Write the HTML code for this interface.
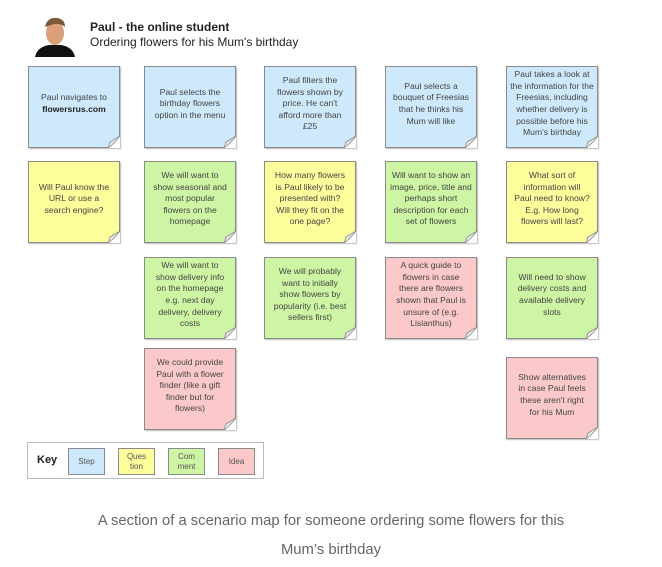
<!DOCTYPE html>
<html><head><meta charset="utf-8"><style>
body{margin:0;width:662px;height:567px;background:#fff;position:relative;overflow:hidden;font-family:"Liberation Sans",sans-serif}
.n{position:absolute;width:92px;height:82px;border:1px solid #8a8a8a;box-sizing:border-box;display:flex;align-items:center;justify-content:center;text-align:center;font-size:8.6px;line-height:11.6px;color:#444;padding:0 7px 6px;box-shadow:1px 1px 1px #bbb}
.n span{display:block}
.n svg{position:absolute;right:-1px;bottom:-1px}
.b{background:#cde9fb}.y{background:#fdfd9c}.g{background:#cdf5a3}.p{background:#fbc9c9}
.k{position:absolute;width:37px;height:27px;border:1px solid #8a8a8a;box-sizing:border-box;display:flex;align-items:center;justify-content:center;text-align:center;font-size:8px;line-height:10px;color:#555}
</style></head><body>
<svg style="position:absolute;left:33px;top:13px" width="44" height="44" viewBox="0 0 44 44">
<path d="M2 44 Q4 34 16 32 L28 32 Q40 34 42 44Z" fill="#111"/>
<ellipse cx="22" cy="20" rx="9" ry="12" fill="#d9a07a"/>
<path d="M12 14 Q14 4 24 5 Q32 6 32 14 Q26 9 18 12Z" fill="#7a5a3a"/>
</svg>
<div style="position:absolute;left:90px;top:20px;font-size:12px;font-weight:bold;color:#222">Paul - the online student</div>
<div style="position:absolute;left:90px;top:35px;font-size:12px;color:#222">Ordering flowers for his Mum's birthday</div>

<div class="n b" style="left:28px;top:66px;padding:0 2px 6px"><span>Paul navigates to<br><b style="color:#222">flowersrus.com</b></span></div>
<div class="n b" style="left:144px;top:66px;padding:0 9px 6px"><span>Paul selects the birthday flowers option in the menu</span></div>
<div class="n b" style="left:264px;top:66px"><span>Paul filters the flowers shown by price. He can't afford more than £25</span></div>
<div class="n b" style="left:385px;top:66px"><span>Paul selects a bouquet of Freesias that he thinks his Mum will like</span></div>
<div class="n b" style="left:506px;top:66px;padding:0 3px 6px"><span>Paul takes a look at the information for the Freesias, including whether delivery is possible before his Mum's birthday</span></div>

<div class="n y" style="left:28px;top:161px;padding:0 9px 6px"><span>Will Paul know the URL or use a search engine?</span></div>
<div class="n g" style="left:144px;top:161px"><span>We will want to show seasonal and most popular flowers on the homepage</span></div>
<div class="n y" style="left:264px;top:161px"><span>How many flowers is Paul likely to be presented with? Will they fit on the one page?</span></div>
<div class="n g" style="left:385px;top:161px;padding:0 4px 6px"><span>Will want to show an image, price, title and perhaps short description for each set of flowers</span></div>
<div class="n y" style="left:506px;top:161px"><span>What sort of information will Paul need to know? E.g. How long flowers will last?</span></div>

<div class="n g" style="left:144px;top:257px;padding:0 9px 6px"><span>We will want to show delivery info on the homepage e.g. next day delivery, delivery costs</span></div>
<div class="n g" style="left:264px;top:257px"><span>We will probably want to initially show flowers by popularity (i.e. best sellers first)</span></div>
<div class="n p" style="left:385px;top:257px"><span>A quick guide to flowers in case there are flowers shown that Paul is unsure of (e.g. Lisianthus)</span></div>
<div class="n g" style="left:506px;top:257px"><span>Will need to show delivery costs and available delivery slots</span></div>

<div class="n p" style="left:144px;top:348px"><span>We could provide Paul with a flower finder (like a gift finder but for flowers)</span></div>
<div class="n p" style="left:506px;top:357px"><span>Show alternatives in case Paul feels these aren't right for his Mum</span></div>

<div style="position:absolute;left:27px;top:442px;width:237px;height:37px;border:1px solid #bbb;box-sizing:border-box"></div>
<div style="position:absolute;left:37px;top:454px;font-size:11px;font-weight:bold;color:#222">Key</div>
<div class="k b" style="left:68px;top:448px">Step</div>
<div class="k y" style="left:118px;top:448px">Ques<br>tion</div>
<div class="k g" style="left:168px;top:448px">Com<br>ment</div>
<div class="k p" style="left:218px;top:448px">Idea</div>

<div style="position:absolute;left:0;top:507px;width:662px;text-align:center;font-size:14.8px;line-height:29px;color:#666">A section of a scenario map for someone ordering some flowers for this<br>Mum’s birthday</div>
<script>
document.querySelectorAll('.n').forEach(function(e){e.insertAdjacentHTML('beforeend','<svg width="12" height="12" viewBox="0 0 12 12"><path d="M12 0 L12 12 L0 12Z" fill="#fff"/><path d="M0 12 Q6 8 12 0 L2 6Z" fill="#e8e8e8" stroke="#8a8a8a" stroke-width="0.8"/></svg>');});
</script>
</body></html>
